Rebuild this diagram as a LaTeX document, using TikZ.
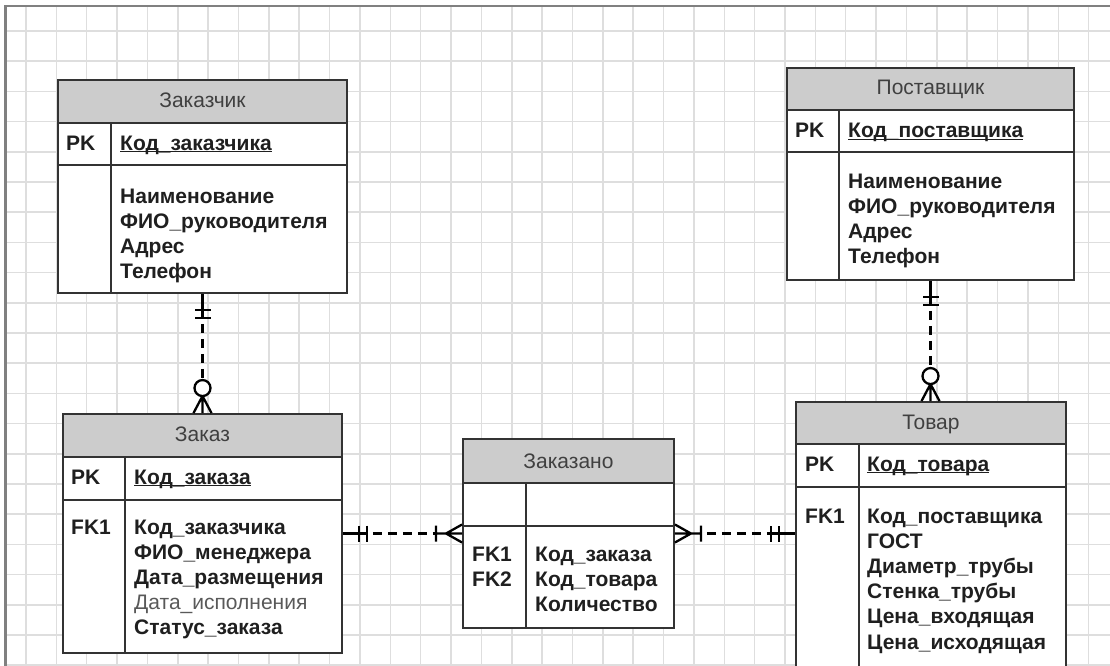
\documentclass[tikz,border=0pt]{standalone}
\usepackage{fontspec}
\setmainfont{Liberation Sans}
\usetikzlibrary{calc}

\newcommand{\fieldlist}[1]{\begin{tabular}[t]{@{}l@{}}#1\end{tabular}}
\newcommand{\keyfield}[1]{\sbox0{#1}\rlap{\rule[-2.2pt]{\wd0}{1.4pt}}\usebox0}

\tikzset{
  gridline/.style={black!13, line width=1.5pt},
  tbl/.style={draw=black!80, fill=white, line width=1.9pt, inner sep=0pt},
  hdrbox/.style={draw=black!80, fill=black!20, line width=1.9pt},
  sep/.style={draw=black!80, line width=1.9pt},
  hdrtext/.style={text=black!75, anchor=base, inner sep=0pt, font=\fontsize{21}{25.2}\selectfont},
  keytext/.style={text=black!88, anchor=base west, inner sep=0pt, font=\fontsize{21}{25.2}\selectfont\bfseries},
  relline/.style={black, line width=2.3pt},
  reldash/.style={relline, dash pattern=on 9pt off 6pt, dash phase=9pt},
  onlyone/.pic={
    \draw[relline] (0,0) -- (24,0) (16,-8) -- (16,8) (24,-8) -- (24,8);
    \coordinate (-end) at (24,0);
  },
  zeromany/.pic={
    \draw[relline] (0,-9) -- (17,0) -- (0,9) (0,0) -- (17,0);
    \draw[relline, fill=white] (25,0) circle[radius=8pt];
    \coordinate (-end) at (33,0);
  },
  onemany/.pic={
    \draw[relline] (0,-9) -- (16,0) -- (0,9) (0,0) -- (26,0) (26,-8) -- (26,8);
    \coordinate (-end) at (26,0);
  }
}

\begin{document}
\begin{tikzpicture}[x=1pt,y=-1pt]
  \useasboundingbox (0,0) rectangle (1110,666);
  \clip (0,0) rectangle (1110,666);
  \fill[white] (0,0) rectangle (1110,666);
  % grid
  \foreach \i in {0,...,35} \draw[gridline] ({26+30.36*\i},6) -- ({26+30.36*\i},666);
  \foreach \j in {0,...,21} \draw[gridline] (5.5,{31+30.2*\j}) -- (1110,{31+30.2*\j});
  \draw[line width=2.6pt, black!50] (5.5,666) -- (5.5,6) -- (1110,6);

  % Заказчик
  \node[tbl, minimum width=289pt, minimum height=213pt] (zakazchik) at (202.5,186.5) {};
  \draw[hdrbox] (58,80) rectangle (347,123);
  \draw[sep] (58,165) -- (347,165) (111,123) -- (111,293);
  \node[hdrtext] (zakazchik-h) at (202.5,108) {Заказчик};
  \node[keytext] (zakazchik-k) at (66,150) {PK};
  \node[keytext] (zakazchik-pk) at (120,150) {\keyfield{Код\_заказчика}};
  \node[keytext] (zakazchik-f) at (120,203) {\fieldlist{Наименование\\ФИО\_руководителя\\Адрес\\Телефон}};

  % Поставщик
  \node[tbl, minimum width=287pt, minimum height=212pt] (postavshchik) at (930.5,174) {};
  \draw[hdrbox] (787,68) rectangle (1074,110);
  \draw[sep] (787,152) -- (1074,152) (839,110) -- (839,280);
  \node[hdrtext] (postavshchik-h) at (930.5,95) {Поставщик};
  \node[keytext] (postavshchik-k) at (795,138) {PK};
  \node[keytext] (postavshchik-pk) at (848,138) {\keyfield{Код\_поставщика}};
  \node[keytext] (postavshchik-f) at (848,188) {\fieldlist{Наименование\\ФИО\_руководителя\\Адрес\\Телефон}};

  % Заказ
  \node[tbl, minimum width=279pt, minimum height=239pt] (zakaz) at (202.5,533.5) {};
  \draw[hdrbox] (63,414) rectangle (342,457);
  \draw[sep] (63,500) -- (342,500) (125,457) -- (125,653);
  \node[hdrtext] (zakaz-h) at (202.5,441) {Заказ};
  \node[keytext] (zakaz-k) at (71,484) {PK};
  \node[keytext] (zakaz-pk) at (134,484) {\keyfield{Код\_заказа}};
  \node[keytext] (zakaz-fk) at (71,534) {FK1};
  \node[keytext] (zakaz-f) at (134,534) {\fieldlist{Код\_заказчика\\ФИО\_менеджера\\Дата\_размещения\\{\mdseries\color{black!65}Дата\_исполнения}\\Статус\_заказа}};

  % Заказано
  \node[tbl, minimum width=211pt, minimum height=189pt] (zakazano) at (568.5,533.5) {};
  \draw[hdrbox] (463,439) rectangle (674,483);
  \draw[sep] (463,526) -- (674,526) (526,483) -- (526,628);
  \node[hdrtext] (zakazano-h) at (568.5,468) {Заказано};
  \node[keytext] (zakazano-fk) at (472,561) {\fieldlist{FK1\\FK2}};
  \node[keytext] (zakazano-f) at (535,561) {\fieldlist{Код\_заказа\\Код\_товара\\Количество}};

  % Товар
  \node[tbl, minimum width=270pt, minimum height=288pt] (tovar) at (931,546) {};
  \draw[hdrbox] (796,402) rectangle (1066,444);
  \draw[sep] (796,487) -- (1066,487) (859,444) -- (859,690);
  \node[hdrtext] (tovar-h) at (931,429) {Товар};
  \node[keytext] (tovar-k) at (805,471) {PK};
  \node[keytext] (tovar-pk) at (867,471) {\keyfield{Код\_товара}};
  \node[keytext] (tovar-fk) at (805,523) {FK1};
  \node[keytext] (tovar-f) at (867,523) {\fieldlist{Код\_поставщика\\ГОСТ\\Диаметр\_трубы\\Стенка\_трубы\\Цена\_входящая\\Цена\_исходящая}};

  % связи
  \pic[rotate=-90] (r1a) at (zakazchik.south) {onlyone};
  \pic[rotate=90] (r1b) at (zakaz.north) {zeromany};
  \draw[reldash] (r1a-end) -- (r1b-end);

  \pic[rotate=-90] (r2a) at (postavshchik.south) {onlyone};
  \pic[rotate=90] (r2b) at (postavshchik.south |- tovar.north) {zeromany};
  \draw[reldash] (r2a-end) -- (r2b-end);

  \pic (r3a) at (zakaz.east) {onlyone};
  \pic[rotate=180] (r3b) at (zakazano.west) {onemany};
  \draw[reldash] (r3a-end) -- (r3b-end);

  \pic (r4a) at (zakazano.east) {onemany};
  \pic[rotate=180] (r4b) at (zakazano.east -| tovar.west) {onlyone};
  \draw[reldash] (r4a-end) -- (r4b-end);
\end{tikzpicture}
\end{document}
